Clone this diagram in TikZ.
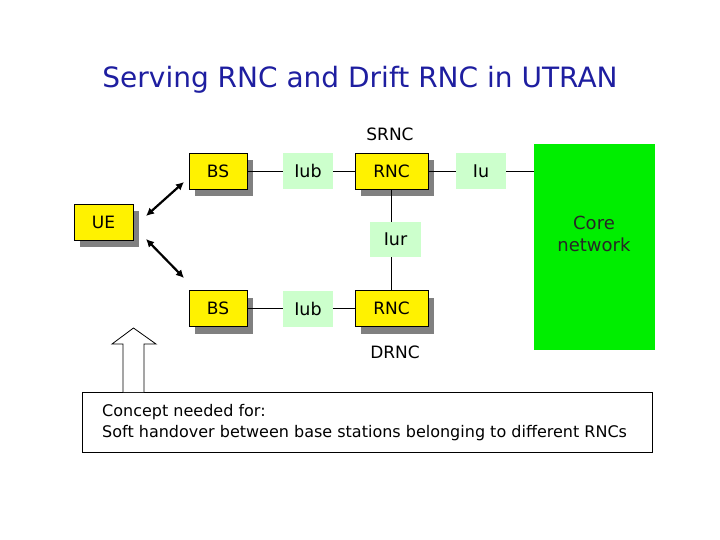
\documentclass[tikz,border=0pt]{standalone}
\usepackage{fontspec}
\setmainfont{DejaVu Sans}
\usetikzlibrary{arrows.meta,shapes.arrows}
\definecolor{titleblue}{RGB}{30,30,160}
\definecolor{lgreen}{RGB}{204,255,204}
\definecolor{cgreen}{RGB}{0,238,0}
\definecolor{shadowgrey}{RGB}{128,128,128}
\begin{document}
\begin{tikzpicture}[x=1pt,y=-1pt,
  ybox/.style={draw=black,fill=yellow,minimum width=58pt,minimum height=36pt,inner sep=0pt,font=\fontsize{17}{20}\selectfont,
    preaction={fill=shadowgrey,draw=none,transform canvas={shift={(6pt,-7pt)}}}},
  rncbox/.style={ybox,minimum width=73pt},
  ifbox/.style={fill=lgreen,minimum width=50pt,minimum height=36pt,inner sep=0pt,font=\fontsize{17.5}{20}\selectfont},
  lbl/.style={font=\fontsize{17}{20}\selectfont},
  link/.style={draw=black,line width=0.8pt},
  radio/.style={line width=2.2pt,{Latex[length=8pt,width=8pt]}-{Latex[length=8pt,width=8pt]}}
]
\useasboundingbox (0,0) rectangle (720,540);
\node[font=\fontsize{28}{32}\selectfont,text=titleblue] (title) at (360,80) {Serving RNC and Drift RNC in UTRAN};
\node[lbl] (srnc) at (390,134) {SRNC};
\node[lbl] (drnc) at (395,352) {DRNC};
% core network
\node[fill=cgreen,minimum width=121pt,minimum height=206pt,inner sep=0pt] (core) at (594.5,247) {};
\node[align=center,font=\fontsize{18}{22}\selectfont,text=black!85] (coretext) at (594,234) {Core\\network};
% top row
\node[ybox] (bs1) at (218,171) {BS};
\node[ifbox] (iub1) at (308,171) {Iub};
\node[rncbox] (rnc1) at (391.5,171) {RNC};
\node[ifbox] (iu) at (481,171) {Iu};
% bottom row
\node[ybox] (bs2) at (218,308.5) {BS};
\node[ifbox] (iub2) at (308,308.5) {Iub};
\node[rncbox] (rnc2) at (391.5,308.5) {RNC};
\node[ifbox,minimum height=35pt,minimum width=51pt] (iur) at (395.5,239.5) {Iur};
% UE
\node[ybox,minimum width=59pt] (ue) at (103.5,222) {UE};
% links
\draw[link] (bs1) -- (iub1) (iub1) -- (rnc1) (rnc1) -- (iu) (iu) -- (core.west |- iu);
\draw[link] (bs2) -- (iub2) (iub2) -- (rnc2);
\draw[link] (rnc1.south -| 391,0) -- (iur.north -| 391,0);
\draw[link] (iur.south -| 391,0) -- (rnc2.north -| 391,0);
% radio arrows
\coordinate (u1) at (146,216);
\coordinate (b1) at (184,182);
\coordinate (u2) at (146,239);
\coordinate (b2) at (184,278);
\draw[radio] (u1) -- (b1);
\draw[radio] (u2) -- (b2);
% concept box
\node[draw=black,line width=0.8pt,minimum width=570pt,minimum height=60pt,inner sep=0pt] (concept) at (367,422) {};
\node[anchor=west,align=left,font=\fontsize{16}{21.5}\selectfont,inner sep=0pt] (ctext) at (102,422.5) {Concept needed for:\\Soft handover between base stations belonging to different RNCs};
% hollow arrow
\coordinate (a1) at (123,392);
\draw[line width=0.8pt,fill=white] (a1) -- (123,344) -- (112,344) -- (133.5,328) -- (156,344) -- (144,344) -- (144,392);
\end{tikzpicture}
\end{document}
